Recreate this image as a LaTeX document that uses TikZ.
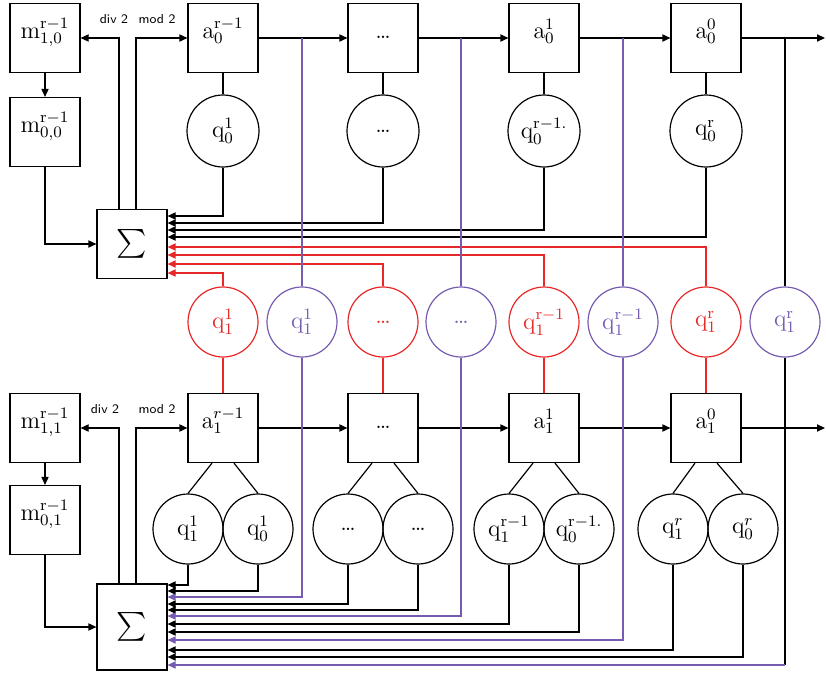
\documentclass[tikz,border=0pt]{standalone}
\usepackage{amsmath}
\usetikzlibrary{calc,arrows.meta,positioning}
\definecolor{lred}{RGB}{232,40,40}
\definecolor{lpurp}{RGB}{118,92,176}

\begin{document}
\begin{tikzpicture}[x=0.5pt,y=-0.5pt,line width=0.6pt,
  font=\fontsize{12}{14}\selectfont,
  box/.style={draw,minimum width=35pt,minimum height=34.5pt,inner sep=0pt,text height=7pt,text depth=7pt},
  sig/.style={draw,minimum width=35pt,inner sep=0pt,font=\fontsize{15}{18}\selectfont},
  qc/.style={draw,circle,minimum size=35pt,inner sep=0pt},
  rq/.style={qc,draw=lred,text=lred},
  pq/.style={qc,draw=lpurp,text=lpurp},
  lab/.style={font=\sffamily\fontsize{6.5}{8}\selectfont},
  >={Triangle[length=4pt,width=3.6pt]}]
\useasboundingbox (0,0) rectangle (826,675);

% upper row
\node[box] (m10) at (45,38) {$\mathrm{m}^{\mathrm{r-1}}_{1,0}$};
\node[box] (m00) at (45,132) {$\mathrm{m}^{\mathrm{r-1}}_{0,0}$};
\node[box] (a0a) at (223,38) {$\mathrm{a}^{\mathrm{r-1}}_{0}$};
\node[box] (a0b) at (383,38) {\ldots};
\node[box] (a0c) at (544,38) {$\mathrm{a}^{1}_{0}$};
\node[box] (a0d) at (706,38) {$\mathrm{a}^{0}_{0}$};
\node[qc,minimum size=36pt] (q0a) at (223,131) {$\mathrm{q}^{1}_{0}$};
\node[qc,minimum size=36pt] (q0b) at (383,131) {\ldots};
\node[qc,minimum size=36pt] (q0c) at (544,131) {$\mathrm{q}^{\mathrm{r-1.}}_{0}$};
\node[qc,minimum size=36pt] (q0d) at (706,131) {$\mathrm{q}^{\mathrm{r}}_{0}$};
\node[sig,minimum height=34.5pt] (s0) at (132,244) {$\sum$};
\node[lab] (dv0) at (114,19) {div 2};
\node[lab] (md0) at (157,19) {mod 2};
\coordinate (out0) at (825,38);

% middle row
\node[rq] (r1) at (223,322) {$\mathrm{q}^{1}_{1}$};
\node[pq] (p1) at (302,322) {$\mathrm{q}^{1}_{1}$};
\node[rq] (r2) at (383,322) {\ldots};
\node[pq] (p2) at (461,322) {\ldots};
\node[rq] (r3) at (544,322) {$\mathrm{q}^{\mathrm{r-1}}_{1}$};
\node[pq] (p3) at (623,322) {$\mathrm{q}^{\mathrm{r-1}}_{1}$};
\node[rq] (r4) at (706,322) {$\mathrm{q}^{\mathrm{r}}_{1}$};
\node[pq] (p4) at (785,322) {$\mathrm{q}^{\mathrm{r}}_{1}$};

% lower row
\node[box] (m11) at (45,428) {$\mathrm{m}^{\mathrm{r-1}}_{1,1}$};
\node[box] (m01) at (45,520) {$\mathrm{m}^{\mathrm{r-1}}_{0,1}$};
\node[box] (a1a) at (223,428) {$\mathrm{a}^{r-1}_{1}$};
\node[box] (a1b) at (383,428) {\ldots};
\node[box] (a1c) at (544,428) {$\mathrm{a}^{1}_{1}$};
\node[box] (a1d) at (706,428) {$\mathrm{a}^{0}_{1}$};
\node[qc] (b1) at (188,529) {$\mathrm{q}^{1}_{1}$};
\node[qc] (b2) at (258,529) {$\mathrm{q}^{1}_{0}$};
\node[qc] (b3) at (348,529) {\ldots};
\node[qc] (b4) at (418,529) {\ldots};
\node[qc] (b5) at (509,529) {$\mathrm{q}^{\mathrm{r-1}}_{1}$};
\node[qc] (b6) at (579,529) {$\mathrm{q}^{\mathrm{r-1.}}_{0}$};
\node[qc] (b7) at (673,529) {$\mathrm{q}^{r}_{1}$};
\node[qc] (b8) at (743,529) {$\mathrm{q}^{r}_{0}$};
\node[sig,minimum height=43pt] (s1) at (132,627) {$\sum$};
\node[lab] (dv1) at (105,409) {div 2};
\node[lab] (md1) at (157,409) {mod 2};
\coordinate (out1) at (825,428);
\coordinate (p4c) at (785,665);

% upper connectors
\draw[->] (m10) -- (m00);
\draw[->] (m00.south) |- (s0.west);
\draw[->] ([xshift=-6.5pt]s0.north) |- (m10.east);
\draw[->] ([xshift=2pt]s0.north) |- (a0a.west);
\draw[->] (a0a) -- (a0b);
\draw[->] (a0b) -- (a0c);
\draw[->] (a0c) -- (a0d);
\draw[->] (a0d) -- (out0);
\foreach \a/\q in {a0a/q0a,a0b/q0b,a0c/q0c,a0d/q0d}
  \draw (\a) -- (\q);
\foreach \q/\y in {q0a/216,q0b/223,q0c/230,q0d/237}
  \draw[->] (\q.south) |- (s0.east |- 0,\y);
\foreach \r/\y in {r1/273,r2/264,r3/255,r4/247}
  \draw[->,lred] (\r.north) |- (s0.east |- 0,\y);
\draw[lpurp] (p1.north) -- (p1.north |- a0a.east);
\draw[lpurp] (p2.north) -- (p2.north |- a0b.east);
\draw[lpurp] (p3.north) -- (p3.north |- a0c.east);
\draw (p4.north) -- (p4.north |- a0d.east);

% lower connectors
\foreach \r/\a in {r1/a1a,r2/a1b,r3/a1c,r4/a1d}
  \draw[lred] (\r) -- (\a);
\draw[->] (m11) -- (m01);
\draw[->] (m01.south) |- (s1.west);
\draw[->] ([xshift=-6.5pt]s1.north) |- (m11.east);
\draw[->] ([xshift=2pt]s1.north) |- (a1a.west);
\draw[->] (a1a) -- (a1b);
\draw[->] (a1b) -- (a1c);
\draw[->] (a1c) -- (a1d);
\draw[->] (a1d) -- (out1);
\foreach \a/\l/\r in {a1a/b1/b2,a1b/b3/b4,a1c/b5/b6,a1d/b7/b8}{
  \draw ([xshift=-5.5pt]\a.south) -- (\l.north);
  \draw ([xshift=5.5pt]\a.south) -- (\r.north);
}
\foreach \q/\y in {b1/585,b2/591,b3/604,b4/610,b5/624,b6/632,b7/650,b8/657}
  \draw[->] (\q.south) |- (s1.east |- 0,\y);
\foreach \p/\y in {p1/597,p2/616,p3/640}
  \draw[->,lpurp] (\p.south) |- (s1.east |- 0,\y);
\draw (p4.south) -- (p4c);
\draw[->,lpurp] (p4c) -- (s1.east |- p4c);
\end{tikzpicture}
\end{document}
